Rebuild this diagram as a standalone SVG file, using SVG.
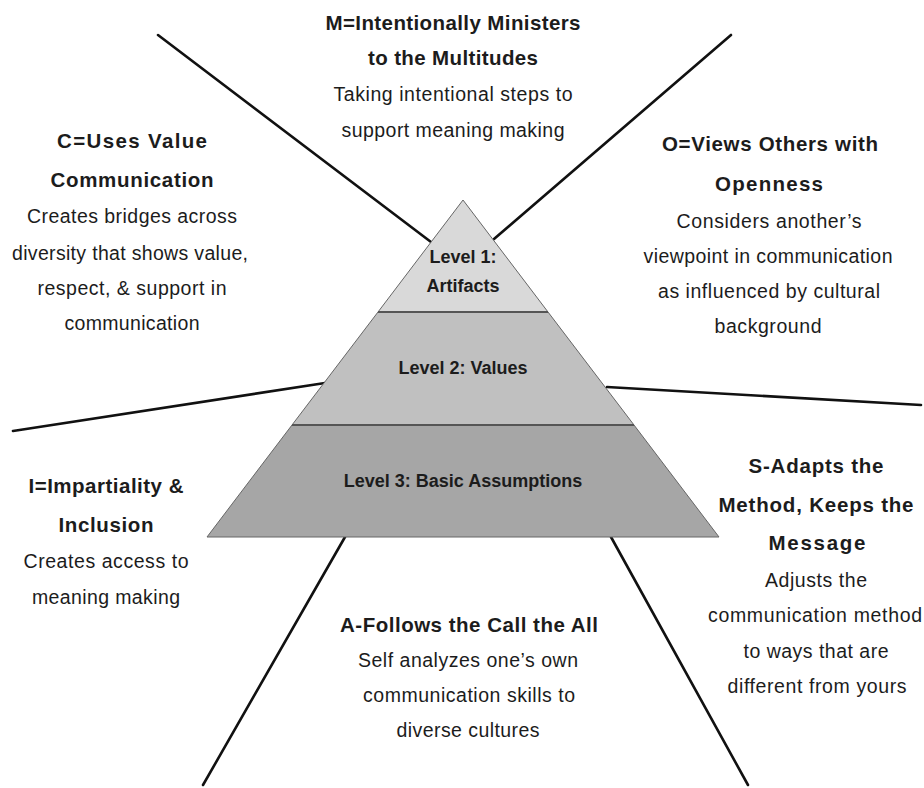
<svg xmlns="http://www.w3.org/2000/svg" width="924" height="788" viewBox="0 0 924 788">
<style>
text{font-family:"Liberation Sans",Arial,sans-serif;fill:#1c1c1c;text-anchor:middle}
.t{font-size:20.5px;font-weight:bold}
.b{font-size:19.5px}
.p{font-size:18px;font-weight:bold}
.ln{stroke:#111;stroke-width:2.6;fill:none;stroke-linecap:round}
.lvl{stroke:#666;stroke-width:1}
.div{stroke:#555;stroke-width:2}
</style>
<rect width="924" height="788" fill="#fff"/>
<g id="connectors">
<line class="ln" x1="158" y1="35" x2="431" y2="242"/>
<line class="ln" x1="731" y1="35" x2="494" y2="239"/>
<line class="ln" x1="13" y1="431" x2="325" y2="383"/>
<line class="ln" x1="607" y1="387" x2="921" y2="405"/>
<line class="ln" x1="345" y1="537" x2="203" y2="785"/>
<line class="ln" x1="611" y1="537" x2="748" y2="785"/>
</g>
<g id="pyramid">
<g id="level3">
<polygon class="lvl" points="292,425 634,425 719,537 207,537" fill="#a6a6a6"/>
<text class="p" x="463" y="487">Level 3: Basic Assumptions</text>
</g>
<g id="level2">
<polygon class="lvl" points="378,312 548,312 634,425 292,425" fill="#c0c0c0"/>
<text class="p" x="463" y="374">Level 2: Values</text>
</g>
<g id="level1">
<polygon class="lvl" points="463,200 548,312 378,312" fill="#d9d9d9"/>
<text class="p" x="463" y="263">Level 1:</text>
<text class="p" x="463" y="292">Artifacts</text>
</g>
<line class="div" x1="378" y1="312" x2="548" y2="312"/>
<line class="div" x1="292" y1="425" x2="634" y2="425"/>
</g>
<g id="M">
<text class="t" x="453" y="30" textLength="255" lengthAdjust="spacing">M=Intentionally Ministers</text>
<text class="t" x="453" y="65" textLength="170" lengthAdjust="spacing">to the Multitudes</text>
<text class="b" x="453" y="101" textLength="239" lengthAdjust="spacing">Taking intentional steps to</text>
<text class="b" x="453" y="137" textLength="223" lengthAdjust="spacing">support meaning making</text>
</g>
<g id="C">
<text class="t" x="132" y="148" textLength="150" lengthAdjust="spacing">C=Uses Value</text>
<text class="t" x="132" y="187" textLength="163" lengthAdjust="spacing">Communication</text>
<text class="b" x="132" y="223" textLength="210" lengthAdjust="spacing">Creates bridges across</text>
<text class="b" x="130" y="260" textLength="236" lengthAdjust="spacing">diversity that shows value,</text>
<text class="b" x="132" y="295" textLength="189" lengthAdjust="spacing">respect, &amp; support in</text>
<text class="b" x="132" y="330" textLength="135" lengthAdjust="spacing">communication</text>
</g>
<g id="O">
<text class="t" x="770" y="151" textLength="216" lengthAdjust="spacing">O=Views Others with</text>
<text class="t" x="769" y="191" textLength="108" lengthAdjust="spacing">Openness</text>
<text class="b" x="769" y="228" textLength="185" lengthAdjust="spacing">Considers another’s</text>
<text class="b" x="768" y="263" textLength="249" lengthAdjust="spacing">viewpoint in communication</text>
<text class="b" x="769" y="298" textLength="222" lengthAdjust="spacing">as influenced by cultural</text>
<text class="b" x="768" y="333" textLength="107" lengthAdjust="spacing">background</text>
</g>
<g id="I">
<text class="t" x="106" y="493" textLength="155" lengthAdjust="spacing">I=Impartiality &amp;</text>
<text class="t" x="106" y="532" textLength="95" lengthAdjust="spacing">Inclusion</text>
<text class="b" x="106" y="568" textLength="165" lengthAdjust="spacing">Creates access to</text>
<text class="b" x="106" y="604" textLength="148" lengthAdjust="spacing">meaning making</text>
</g>
<g id="S">
<text class="t" x="816" y="473" textLength="135" lengthAdjust="spacing">S-Adapts the</text>
<text class="t" x="816" y="512" textLength="195" lengthAdjust="spacing">Method, Keeps the</text>
<text class="t" x="817" y="550" textLength="97" lengthAdjust="spacing">Message</text>
<text class="b" x="816" y="587" textLength="102" lengthAdjust="spacing">Adjusts the</text>
<text class="b" x="815" y="622" textLength="214" lengthAdjust="spacing">communication method</text>
<text class="b" x="816" y="658" textLength="145" lengthAdjust="spacing">to ways that are</text>
<text class="b" x="817" y="693" textLength="179" lengthAdjust="spacing">different from yours</text>
</g>
<g id="A">
<text class="t" x="469" y="632" textLength="258" lengthAdjust="spacing">A-Follows the Call the All</text>
<text class="b" x="468" y="667" textLength="220" lengthAdjust="spacing">Self analyzes one’s own</text>
<text class="b" x="469" y="702" textLength="212" lengthAdjust="spacing">communication skills to</text>
<text class="b" x="468" y="737" textLength="143" lengthAdjust="spacing">diverse cultures</text>
</g>
</svg>
